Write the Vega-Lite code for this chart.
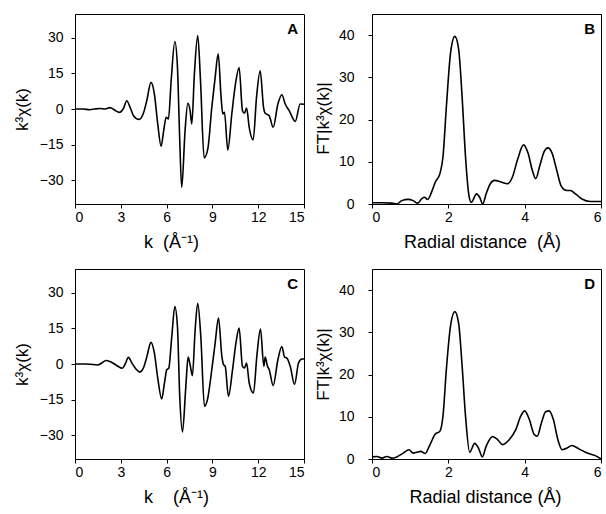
{
  "$schema": "https://vega.github.io/schema/vega-lite/v6.json",
  "padding": {"left": 12, "top": 13, "right": 0, "bottom": 0},
  "config": {
    "font": "Liberation Sans",
    "view": {"stroke": "black", "strokeWidth": 1},
    "axis": {"domainColor": "black", "tickColor": "black", "labelColor": "black", "titleColor": "black", "grid": false, "labelFontSize": 14, "titleFontSize": 17, "titleFontWeight": "normal", "tickSize": 4, "labelFont": "Liberation Sans", "titleFont": "Liberation Sans", "domainWidth": 1},
    "axisX": {"titleFontSize": 18},
    "line": {"color": "black", "strokeWidth": 1.6, "interpolate": "monotone"}
  },
  "datasets": {
    "A": [
      {"k":0,"chi":0},{"k":0.5,"chi":0},{"k":0.98,"chi":-0.3},{"k":1.3,"chi":0},{"k":1.64,"chi":0.2},{"k":1.97,"chi":0},{"k":2.3,"chi":0.6},{"k":2.58,"chi":-0.4},{"k":2.91,"chi":-1.4},{"k":3.17,"chi":0.2},{"k":3.39,"chi":3.5},{"k":3.61,"chi":0.7},{"k":3.83,"chi":-2.8},{"k":4.2,"chi":-4.4},{"k":4.48,"chi":-1.8},{"k":4.7,"chi":3.5},{"k":4.98,"chi":11.2},{"k":5.2,"chi":6.3},{"k":5.42,"chi":-6.3},{"k":5.64,"chi":-15.7},{"k":5.81,"chi":-9.1},{"k":5.97,"chi":-3.5},{"k":6.12,"chi":-4.2},{"k":6.3,"chi":12},{"k":6.54,"chi":28.4},{"k":6.71,"chi":17.8},{"k":6.86,"chi":-13},{"k":6.99,"chi":-33},{"k":7.21,"chi":-9.1},{"k":7.39,"chi":2.4},{"k":7.54,"chi":-0.7},{"k":7.65,"chi":-6.3},{"k":7.82,"chi":14.7},{"k":8.04,"chi":30.9},{"k":8.22,"chi":12},{"k":8.46,"chi":-20.6},{"k":8.7,"chi":-16.8},{"k":8.96,"chi":0.7},{"k":9.18,"chi":13.3},{"k":9.38,"chi":23.2},{"k":9.57,"chi":4.9},{"k":9.68,"chi":-2.1},{"k":9.79,"chi":-1.4},{"k":10.01,"chi":-17.3},{"k":10.27,"chi":-2.1},{"k":10.51,"chi":10.5},{"k":10.75,"chi":17.5},{"k":10.97,"chi":-0.7},{"k":11.1,"chi":-1.8},{"k":11.24,"chi":0.4},{"k":11.41,"chi":-7.7},{"k":11.67,"chi":-13},{"k":11.89,"chi":4.9},{"k":12.13,"chi":16.1},{"k":12.35,"chi":0.7},{"k":12.46,"chi":-1.8},{"k":12.72,"chi":-2.8},{"k":12.98,"chi":-7.7},{"k":13.29,"chi":2.1},{"k":13.55,"chi":6},{"k":13.77,"chi":2.1},{"k":14.03,"chi":-0.7},{"k":14.43,"chi":-5.2},{"k":14.75,"chi":2.1},{"k":15,"chi":2}
    ],
    "C": [
      {"k":0,"chi":0},{"k":0.66,"chi":0},{"k":0.98,"chi":-0.1},{"k":1.49,"chi":-0.4},{"k":1.75,"chi":0.4},{"k":2.03,"chi":1.5},{"k":2.36,"chi":0.8},{"k":2.73,"chi":-0.6},{"k":3.1,"chi":-1.8},{"k":3.28,"chi":-0.1},{"k":3.5,"chi":2.8},{"k":3.72,"chi":0.5},{"k":3.98,"chi":-2},{"k":4.24,"chi":-3.4},{"k":4.48,"chi":-1.7},{"k":4.7,"chi":2.9},{"k":4.98,"chi":9.1},{"k":5.2,"chi":4.6},{"k":5.42,"chi":-5.9},{"k":5.68,"chi":-14.7},{"k":5.86,"chi":-8},{"k":6.01,"chi":-2.4},{"k":6.14,"chi":-1.8},{"k":6.34,"chi":11.6},{"k":6.54,"chi":24.2},{"k":6.71,"chi":15.8},{"k":6.86,"chi":-13.6},{"k":7.04,"chi":-28.6},{"k":7.26,"chi":-9.4},{"k":7.41,"chi":2.9},{"k":7.54,"chi":-0.3},{"k":7.69,"chi":-4.9},{"k":7.87,"chi":14.4},{"k":8.04,"chi":25.6},{"k":8.24,"chi":11.6},{"k":8.48,"chi":-17.8},{"k":8.7,"chi":-14.3},{"k":8.96,"chi":-2.4},{"k":9.18,"chi":8.8},{"k":9.4,"chi":19.3},{"k":9.62,"chi":3.2},{"k":9.73,"chi":-0.3},{"k":9.84,"chi":-1},{"k":10.05,"chi":-13.6},{"k":10.32,"chi":-2.4},{"k":10.54,"chi":8.8},{"k":10.75,"chi":15.1},{"k":10.97,"chi":-1},{"k":11.1,"chi":-1.7},{"k":11.24,"chi":0.4},{"k":11.41,"chi":-8},{"k":11.69,"chi":-12.2},{"k":11.91,"chi":3.2},{"k":12.15,"chi":14.7},{"k":12.37,"chi":-1},{"k":12.46,"chi":2.9},{"k":12.61,"chi":-1},{"k":12.72,"chi":-2.4},{"k":12.98,"chi":-9.1},{"k":13.29,"chi":1.8},{"k":13.55,"chi":7.4},{"k":13.73,"chi":2.9},{"k":13.88,"chi":2.5},{"k":14.1,"chi":-1},{"k":14.38,"chi":-8.6},{"k":14.64,"chi":0.4},{"k":14.86,"chi":2.1},{"k":15,"chi":2.1}
    ],
    "B": [
      {"r":0,"ft":0.3},{"r":0.26,"ft":0.3},{"r":0.52,"ft":0.2},{"r":0.65,"ft":0},{"r":0.78,"ft":0.8},{"r":0.95,"ft":1.1},{"r":1.08,"ft":0.8},{"r":1.2,"ft":0.2},{"r":1.3,"ft":1.2},{"r":1.37,"ft":1.6},{"r":1.46,"ft":1.1},{"r":1.56,"ft":2.8},{"r":1.66,"ft":5.2},{"r":1.78,"ft":7.2},{"r":1.86,"ft":11.2},{"r":1.95,"ft":23.2},{"r":2.06,"ft":35.9},{"r":2.17,"ft":39.7},{"r":2.27,"ft":36.7},{"r":2.36,"ft":25.5},{"r":2.45,"ft":11.2},{"r":2.54,"ft":2},{"r":2.6,"ft":0.4},{"r":2.74,"ft":2.4},{"r":2.82,"ft":1.6},{"r":2.9,"ft":0},{"r":2.99,"ft":2.4},{"r":3.1,"ft":4.8},{"r":3.21,"ft":5.6},{"r":3.38,"ft":5.2},{"r":3.55,"ft":4.8},{"r":3.68,"ft":6.4},{"r":3.81,"ft":10.4},{"r":3.97,"ft":14},{"r":4.09,"ft":12},{"r":4.2,"ft":8},{"r":4.29,"ft":6},{"r":4.4,"ft":9.2},{"r":4.51,"ft":12.4},{"r":4.61,"ft":13.3},{"r":4.72,"ft":12},{"r":4.84,"ft":8},{"r":4.96,"ft":4.2},{"r":5.1,"ft":3.2},{"r":5.2,"ft":3.2},{"r":5.33,"ft":2.4},{"r":5.5,"ft":1.2},{"r":5.72,"ft":0.6},{"r":6,"ft":0.6}
    ],
    "D": [
      {"r":0,"ft":0.5},{"r":0.13,"ft":0.6},{"r":0.26,"ft":0.2},{"r":0.39,"ft":0.6},{"r":0.52,"ft":0.2},{"r":0.65,"ft":0.5},{"r":0.82,"ft":1.4},{"r":0.97,"ft":2.2},{"r":1.08,"ft":1.4},{"r":1.17,"ft":1.6},{"r":1.28,"ft":1.8},{"r":1.39,"ft":1.3},{"r":1.52,"ft":3.4},{"r":1.65,"ft":5.8},{"r":1.78,"ft":6.6},{"r":1.86,"ft":10.2},{"r":1.95,"ft":21.4},{"r":2.06,"ft":31.7},{"r":2.17,"ft":34.9},{"r":2.27,"ft":32.1},{"r":2.36,"ft":22.2},{"r":2.45,"ft":10.2},{"r":2.56,"ft":1.6},{"r":2.69,"ft":3.7},{"r":2.79,"ft":2.6},{"r":2.89,"ft":0.5},{"r":2.99,"ft":3},{"r":3.16,"ft":5.3},{"r":3.29,"ft":4.6},{"r":3.42,"ft":3.4},{"r":3.6,"ft":4.6},{"r":3.77,"ft":7},{"r":3.9,"ft":10.2},{"r":4.0,"ft":11.4},{"r":4.12,"ft":9.4},{"r":4.25,"ft":5.8},{"r":4.33,"ft":5.4},{"r":4.44,"ft":8.6},{"r":4.55,"ft":11.2},{"r":4.64,"ft":11.4},{"r":4.75,"ft":9.4},{"r":4.87,"ft":4.6},{"r":4.98,"ft":2.2},{"r":5.11,"ft":2.6},{"r":5.24,"ft":3.2},{"r":5.42,"ft":2.4},{"r":5.64,"ft":1.4},{"r":5.85,"ft":0.8},{"r":6,"ft":0}
    ]
  },
  "spacing": 16,
  "vconcat": [
    {
      "spacing": 5,
      "hconcat": [
        {
          "width": 229, "height": 190,
          "layer": [
            {
              "data": {"name": "A"},
              "mark": {"type": "line"},
              "encoding": {
                "x": {"field": "k", "type": "quantitative", "scale": {"domain": [0, 15], "nice": false, "zero": false}, "axis": {"values": [0, 3, 6, 9, 12, 15], "title": "k\u00a0 (Å⁻¹)", "labelPadding": 2, "titlePadding": 9, "titleX": 96}},
                "y": {"field": "chi", "type": "quantitative", "scale": {"domain": [-40, 40], "nice": false}, "axis": {"values": [-30, -15, 0, 15, 30], "title": "k³χ(k)", "labelPadding": 8, "titlePadding": 8}}
              }
            },
            {
              "data": {"values": [{"panel": "A"}]},
              "mark": {"type": "text", "fontWeight": "bold", "fontSize": 15, "align": "right", "baseline": "top", "dx": -6, "dy": 8, "color": "black"},
              "encoding": {"x": {"datum": 15}, "y": {"datum": 40}, "text": {"field": "panel"}}
            }
          ]
        },
        {
          "width": 229, "height": 190,
          "layer": [
            {
              "data": {"name": "B"},
              "mark": {"type": "line"},
              "encoding": {
                "x": {"field": "r", "type": "quantitative", "scale": {"domain": [0, 6], "nice": false}, "axis": {"values": [0, 1, 2, 3, 4, 5, 6], "title": "Radial distance\u00a0 (Å)", "labelPadding": 2, "titlePadding": 9, "titleX": 110}},
                "y": {"field": "ft", "type": "quantitative", "scale": {"domain": [0, 45], "nice": false}, "axis": {"values": [0, 10, 20, 30, 40], "title": "FT|k³χ(k)|", "labelPadding": 14, "titlePadding": 6, "titleY": 104}}
              }
            },
            {
              "data": {"values": [{"panel": "B"}]},
              "mark": {"type": "text", "fontWeight": "bold", "fontSize": 15, "align": "right", "baseline": "top", "dx": -6, "dy": 8, "color": "black"},
              "encoding": {"x": {"datum": 6}, "y": {"datum": 45}, "text": {"field": "panel"}}
            }
          ]
        }
      ]
    },
    {
      "spacing": 5,
      "hconcat": [
        {
          "width": 229, "height": 190,
          "layer": [
            {
              "data": {"name": "C"},
              "mark": {"type": "line"},
              "encoding": {
                "x": {"field": "k", "type": "quantitative", "scale": {"domain": [0, 15], "nice": false, "zero": false}, "axis": {"values": [0, 3, 6, 9, 12, 15], "title": "k\u00a0\u00a0\u00a0 (Å⁻¹)", "labelPadding": 2, "titlePadding": 9, "titleX": 101}},
                "y": {"field": "chi", "type": "quantitative", "scale": {"domain": [-40, 40], "nice": false}, "axis": {"values": [-30, -15, 0, 15, 30], "title": "k³χ(k)", "labelPadding": 8, "titlePadding": 8}}
              }
            },
            {
              "data": {"values": [{"panel": "C"}]},
              "mark": {"type": "text", "fontWeight": "bold", "fontSize": 15, "align": "right", "baseline": "top", "dx": -6, "dy": 8, "color": "black"},
              "encoding": {"x": {"datum": 15}, "y": {"datum": 40}, "text": {"field": "panel"}}
            }
          ]
        },
        {
          "width": 229, "height": 190,
          "layer": [
            {
              "data": {"name": "D"},
              "mark": {"type": "line"},
              "encoding": {
                "x": {"field": "r", "type": "quantitative", "scale": {"domain": [0, 6], "nice": false}, "axis": {"values": [0, 1, 2, 3, 4, 5, 6], "title": "Radial distance (Å)", "labelPadding": 2, "titlePadding": 9, "titleX": 113}},
                "y": {"field": "ft", "type": "quantitative", "scale": {"domain": [0, 45], "nice": false}, "axis": {"values": [0, 10, 20, 30, 40], "title": "FT|k³χ(k)|", "labelPadding": 14, "titlePadding": 6}}
              }
            },
            {
              "data": {"values": [{"panel": "D"}]},
              "mark": {"type": "text", "fontWeight": "bold", "fontSize": 15, "align": "right", "baseline": "top", "dx": -6, "dy": 8, "color": "black"},
              "encoding": {"x": {"datum": 6}, "y": {"datum": 45}, "text": {"field": "panel"}}
            }
          ]
        }
      ]
    }
  ]
}
